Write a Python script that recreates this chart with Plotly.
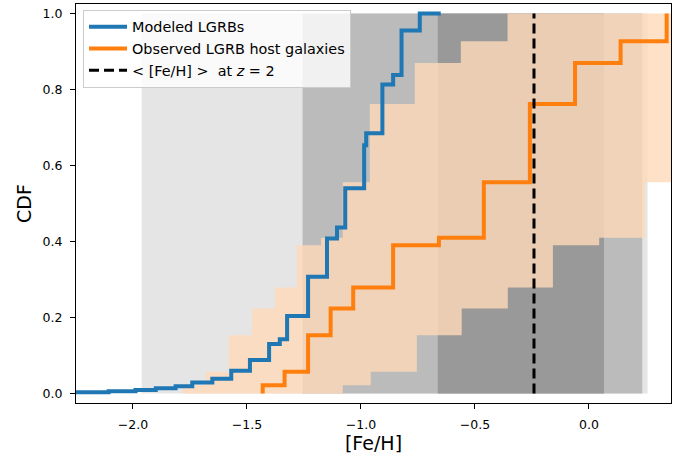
import numpy as np
import plotly.graph_objects as go

# ---------------- data ----------------
# Modeled LGRB CDF (post-step)
model_feh = [-2.25, -2.107, -1.989, -1.90, -1.813, -1.740, -1.652, -1.569, -1.487,
             -1.403, -1.356, -1.324, -1.232, -1.149, -1.105, -1.069, -0.986, -0.977,
             -0.906, -0.859, -0.822, -0.742, -0.650]
model_cdf = [0.003, 0.006, 0.009, 0.014, 0.019, 0.029, 0.039, 0.060, 0.088,
             0.130, 0.143, 0.204, 0.307, 0.408, 0.437, 0.540, 0.653, 0.685,
             0.813, 0.838, 0.955, 1.0, 1.0]

# Observed LGRB host galaxies CDF
obs_feh = [-1.431, -1.335, -1.232, -1.133, -1.034, -0.859, -0.658, -0.461,
           -0.259, -0.061, 0.139, 0.341]
obs_cdf = [0.022, 0.057, 0.153, 0.224, 0.279, 0.390, 0.410, 0.556,
           0.762, 0.870, 0.927, 1.0]

# Observed-CDF uncertainty band: step positions of the upper / lower envelopes
band_upper_feh = [-1.782, -1.681, -1.580, -1.479, -1.378, -1.282, -1.175, -1.080,
                  -0.961, -0.764, -0.562, -0.357]
band_lower_feh = [-1.080, -0.957, -0.755, -0.558, -0.356, -0.158, 0.045, 0.246]
band_feh_max = 0.37

# Modeled [Fe/H] ranges (nested shaded spans)
span_lo = [-1.962, -1.256, -0.663]
span_hi = [0.257, 0.234, 0.066]
span_colors = ["#e5e5e5", "#bbbbbb", "#999999"]

# mean [Fe/H] at z = 2
feh_z2 = -0.241

xtick_vals = [-2.0, -1.5, -1.0, -0.5, 0.0]
xtick_text = ["\u22122.0", "\u22121.5", "\u22121.0", "\u22120.5", "0.0"]
ytick_vals = [0.0, 0.2, 0.4, 0.6, 0.8, 1.0]
ytick_text = ["0.0", "0.2", "0.4", "0.6", "0.8", "1.0"]

cdf_min, cdf_max = 0.0, 1.0

# ---------------- figure ----------------
fig = go.Figure()

for lo, hi, col in zip(span_lo, span_hi, span_colors):
    fig.add_trace(go.Scatter(
        x=[lo, hi, hi, lo], y=[cdf_min, cdf_min, cdf_max, cdf_max],
        fill="toself", fillcolor=col, mode="lines", line=dict(width=0),
        showlegend=False, hoverinfo="skip"))


def step_vertices(xs, levels, x_end):
    px, py = [], []
    prev = cdf_min
    for x, lv in zip(xs, levels):
        px += [x, x]
        py += [prev, lv]
        prev = lv
    px.append(x_end)
    py.append(prev)
    return px, py


up_x, up_y = step_vertices(band_upper_feh, obs_cdf, band_feh_max)
lo_x, lo_y = step_vertices(band_lower_feh, obs_cdf[:len(band_lower_feh)], band_feh_max)
fig.add_trace(go.Scatter(
    x=up_x + lo_x[::-1], y=up_y + lo_y[::-1],
    fill="toself", fillcolor="rgba(255,218,185,0.8)", mode="lines",
    line=dict(width=0), showlegend=False, hoverinfo="skip"))

fig.add_trace(go.Scatter(
    x=model_feh, y=model_cdf, mode="lines", line=dict(color="#1f77b4", width=4, shape="hv"),
    name="Modeled LGRBs"))

fig.add_trace(go.Scatter(
    x=[obs_feh[0]] + obs_feh, y=[cdf_min] + obs_cdf, mode="lines",
    line=dict(color="#ff7f0e", width=4, shape="hv"),
    name="Observed LGRB host galaxies"))

fig.add_trace(go.Scatter(
    x=[feh_z2, feh_z2], y=[cdf_min, cdf_max], mode="lines",
    line=dict(color="black", width=3, dash="10px,5px"),
    name="&lt; [Fe/H] &gt;  at <i>z</i> = 2"))

axis_common = dict(showline=True, linecolor="black", linewidth=1.2, mirror=True,
                   ticks="outside", ticklen=5, tickwidth=1.2, tickcolor="black",
                   showgrid=False, zeroline=False, ticklabelstandoff=5,
                   tickfont=dict(size=12.5, family="DejaVu Sans", color="black"))

fig.update_layout(
    width=689, height=461,
    margin=dict(l=76, r=18, t=4, b=58),
    paper_bgcolor="white", plot_bgcolor="white",
    font=dict(family="DejaVu Sans", color="black"),
    legend=dict(x=0.0118, y=0.985, xanchor="left", yanchor="top",
                bgcolor="rgba(255,255,255,0.8)", bordercolor="#cccccc", borderwidth=1,
                font=dict(size=14.4, family="DejaVu Sans", color="black"),
                tracegroupgap=0, itemwidth=38, entrywidth=232, entrywidthmode="pixels"),
    xaxis=dict(range=[-2.25, 0.36], tickvals=xtick_vals, ticktext=xtick_text,
               title=dict(text="[Fe/H]", font=dict(size=19), standoff=2), **axis_common),
    yaxis=dict(range=[-0.025, 1.025], tickvals=ytick_vals, ticktext=ytick_text,
               title=dict(text="CDF", font=dict(size=19), standoff=5), **axis_common),
)

fig.write_html("out.html")
